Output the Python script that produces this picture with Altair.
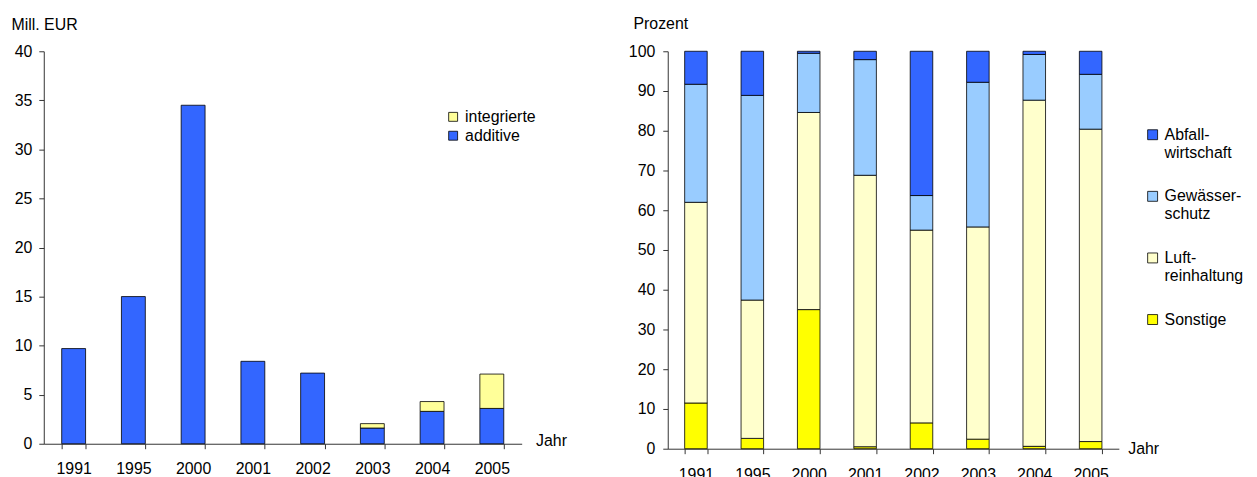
import altair as alt
import pandas as pd

# ---------------- data ----------------
years = ["1991", "1995", "2000", "2001", "2002", "2003", "2004", "2005"]

# left chart: Mill. EUR
additive = [9.7, 15.0, 34.5, 8.4, 7.2, 1.6, 3.3, 3.6]
integrierte = [0.0, 0.0, 0.0, 0.0, 0.0, 0.45, 1.0, 3.5]
left_types = ["integrierte", "additive"]
left_colors = ["#FFFF99", "#3366FF"]

# right chart: Prozent
sonstige = [11.5, 2.6, 35.0, 0.5, 6.5, 2.4, 0.6, 1.8]
luft = [50.5, 34.8, 49.6, 68.3, 48.5, 53.4, 87.1, 78.6]
gewaesser = [29.7, 51.5, 14.9, 29.1, 8.7, 36.4, 11.5, 13.8]
abfall = [8.3, 11.1, 0.5, 2.1, 36.3, 7.8, 0.8, 5.8]
right_cats = ["Abfallwirtschaft", "Gewässerschutz", "Luftreinhaltung", "Sonstige"]
right_colors = ["#3366FF", "#99CCFF", "#FFFFCC", "#FFFF00"]
right_legend_lines = [["Abfall-", "wirtschaft"], ["Gewässer-", "schutz"],
                      ["Luft-", "reinhaltung"], ["Sonstige"]]

FONT = "Liberation Sans"
FS = 16

# ---------------- tables ----------------
left_df = pd.DataFrame({
    "Jahr": years * 2,
    "Typ": ["additive"] * len(years) + ["integrierte"] * len(years),
    "Wert": additive + integrierte,
    "ord": [0] * len(years) + [1] * len(years),
})

right_series = [sonstige, luft, gewaesser, abfall]
right_names = ["Sonstige", "Luftreinhaltung", "Gewässerschutz", "Abfallwirtschaft"]
rows = []
for k, (name, vals) in enumerate(zip(right_names, right_series)):
    for y, v in zip(years, vals):
        rows.append({"Jahr": y, "Bereich": name, "Prozent": v, "ord": k})
right_df = pd.DataFrame(rows)


def lines_expr(cats, lines):
    parts = []
    for c, l in zip(cats, lines):
        arr = "[" + ", ".join("'%s'" % s for s in l) + "]"
        parts.append("datum.label == '%s' ? %s" % (c, arr))
    return " : ".join(parts) + " : datum.label"


axis_common = dict(
    domainColor="#333333", tickColor="#333333", tickSize=5, grid=False,
    labelFont=FONT, labelFontSize=FS, labelColor="black",
    titleFont=FONT, titleFontSize=FS, titleColor="black", titleFontWeight="normal",
)

LW, LH = 481, 395
left = alt.Chart(left_df).transform_filter("datum.Wert > 0").mark_bar(
    stroke="black", strokeWidth=0.8
).encode(
    x=alt.X("Jahr:N", sort=years,
            scale=alt.Scale(paddingInner=0.6, paddingOuter=0.3),
            axis=alt.Axis(title="Jahr", labelAngle=0, tickBand="extent", labelPadding=12,
                          titleX=LW + 14, titleY=2, titleAlign="left",
                          titleBaseline="alphabetic", titleAnchor="start", **axis_common)),
    y=alt.Y("Wert:Q", stack="zero", scale=alt.Scale(domain=[0, 40], nice=False),
            axis=alt.Axis(values=list(range(0, 41, 5)), title="Mill. EUR", titleAngle=0,
                          titleX=-33, titleY=-22, titleAlign="left",
                          titleBaseline="alphabetic", labelPadding=7, **axis_common)),
    color=alt.Color("Typ:N", scale=alt.Scale(domain=left_types, range=left_colors),
                    legend=alt.Legend(title=None, orient="none", legendX=404, legendY=58,
                                      symbolType="square", symbolSize=81,
                                      symbolStrokeColor="black", symbolStrokeWidth=0.8,
                                      labelFont=FONT, labelFontSize=FS, labelColor="black",
                                      labelOffset=4, rowPadding=3, padding=0)),
    order=alt.Order("ord:Q"),
).properties(width=LW, height=LH)

RW, RH = 454, 400
right = alt.Chart(right_df).mark_bar(stroke="black", strokeWidth=0.8).encode(
    x=alt.X("Jahr:N", sort=years,
            scale=alt.Scale(paddingInner=0.6, paddingOuter=0.3),
            axis=alt.Axis(title="Jahr", labelAngle=0, tickBand="extent", labelPadding=13,
                          titleX=RW + 9, titleY=5, titleAlign="left",
                          titleBaseline="alphabetic", titleAnchor="start", **axis_common)),
    y=alt.Y("Prozent:Q", stack="zero", scale=alt.Scale(domain=[0, 100], nice=False),
            axis=alt.Axis(values=list(range(0, 101, 10)), title="Prozent", titleAngle=0,
                          titleX=-35, titleY=-23, titleAlign="left",
                          titleBaseline="alphabetic", labelPadding=8, **axis_common)),
    color=alt.Color("Bereich:N", scale=alt.Scale(domain=right_cats, range=right_colors),
                    legend=alt.Legend(title=None, orient="none", legendX=480, legendY=76,
                                      symbolType="square", symbolSize=100,
                                      symbolStrokeColor="black", symbolStrokeWidth=0.8,
                                      labelFont=FONT, labelFontSize=FS, labelColor="black",
                                      labelExpr=lines_expr(right_cats, right_legend_lines),
                                      labelOffset=4, rowPadding=28, padding=0,
                                      gridAlign="all")),
    order=alt.Order("ord:Q"),
).properties(width=RW, height=RH)

chart = alt.hconcat(left, right, spacing=61).resolve_scale(
    color="independent"
).resolve_legend(color="independent").configure(
    padding={"left": 3, "top": 6, "right": 5, "bottom": 5}
).configure_view(stroke=None)

chart.save("out.html", embed_options={"renderer": "svg", "actions": False})
